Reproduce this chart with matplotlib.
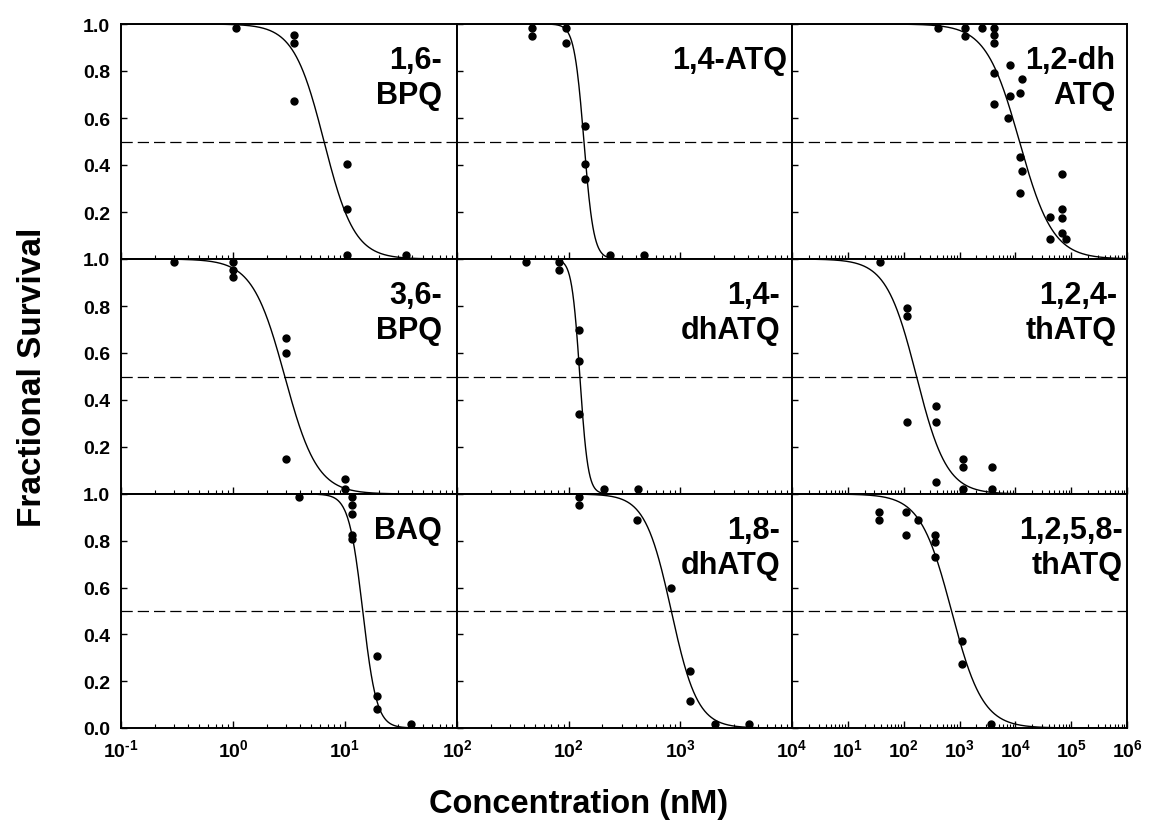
import numpy as np
import matplotlib
matplotlib.use("Agg")
import matplotlib.pyplot as plt
from matplotlib.ticker import LogLocator, NullFormatter, FixedLocator

plt.rcParams['font.family'] = ['Liberation Sans', 'DejaVu Sans']
plt.rcParams['font.weight'] = 'bold'
plt.rcParams['mathtext.fontset'] = 'custom'
plt.rcParams['mathtext.rm'] = 'Liberation Sans:bold'
plt.rcParams['mathtext.bf'] = 'Liberation Sans:bold'
plt.rcParams['mathtext.default'] = 'bf'

# ---------------- data ----------------
panel_names = ["1,6-\nBPQ", "1,4-ATQ", "1,2-dh\nATQ",
               "3,6-\nBPQ", "1,4-\ndhATQ", "1,2,4-\nthATQ",
               "BAQ", "1,8-\ndhATQ", "1,2,5,8-\nthATQ"]

conc_16BPQ = [1.06, 3.5, 3.5, 3.5, 10.5, 10.5, 10.5, 35]
surv_16BPQ = [0.983, 0.953, 0.92, 0.674, 0.405, 0.211, 0.017, 0.017]

conc_14ATQ = [47, 47, 95, 95, 141, 141, 141, 236, 472]
surv_14ATQ = [0.983, 0.95, 0.983, 0.92, 0.566, 0.405, 0.34, 0.017, 0.017]

conc_12dhATQ = [419, 1259, 1259, 2541, 4229, 4229, 4229, 4229, 4229, 8072, 8072,
                7328, 13060, 12190, 12190, 13060, 12190, 69020, 69020, 69020,
                69020, 41500, 41500, 80350]
surv_12dhATQ = [0.983, 0.983, 0.95, 0.983, 0.983, 0.953, 0.918, 0.79, 0.661, 0.824,
                0.695, 0.598, 0.766, 0.708, 0.435, 0.373, 0.281, 0.36, 0.211, 0.173,
                0.11, 0.179, 0.085, 0.085]

conc_36BPQ = [0.30, 1.0, 1.0, 1.0, 3.0, 3.0, 3.0, 10, 10]
surv_36BPQ = [0.986, 0.986, 0.955, 0.922, 0.665, 0.6, 0.149, 0.065, 0.021]

conc_14dhATQ = [41.5, 82, 82, 124, 124, 124, 207, 414]
surv_14dhATQ = [0.986, 0.986, 0.953, 0.697, 0.566, 0.342, 0.021, 0.021]

conc_124thATQ = [37.8, 115, 115, 115, 386, 386, 386, 1161, 1161, 1161, 3890, 3890]
surv_124thATQ = [0.986, 0.791, 0.759, 0.308, 0.373, 0.308, 0.051, 0.148, 0.115,
                 0.02, 0.115, 0.02]

conc_BAQ = [3.88, 11.6, 11.6, 11.6, 11.6, 11.6, 19.2, 19.2, 19.2, 38.8]
surv_BAQ = [0.986, 0.986, 0.952, 0.915, 0.826, 0.806, 0.306, 0.137, 0.08, 0.017]

conc_18dhATQ = [124, 124, 411, 818, 1219, 1219, 2042, 4111]
surv_18dhATQ = [0.986, 0.953, 0.889, 0.598, 0.242, 0.114, 0.017, 0.017]

conc_1258thATQ = [36, 36, 109, 109, 179, 366, 366, 366, 1099, 1099, 3683]
surv_1258thATQ = [0.922, 0.89, 0.922, 0.826, 0.89, 0.826, 0.793, 0.729, 0.373,
                  0.275, 0.017]

# fitted dose-response parameters (IC50 in nM, Hill slope)
ic50 = [6.5, 137, 11850, 2.9, 126, 170, 14.4, 830, 720]
hill = [3.2, 10, 1.45, 3.0, 12, 1.6, 7.0, 3.7, 1.55]

concs = [conc_16BPQ, conc_14ATQ, conc_12dhATQ, conc_36BPQ, conc_14dhATQ,
         conc_124thATQ, conc_BAQ, conc_18dhATQ, conc_1258thATQ]
survs = [surv_16BPQ, surv_14ATQ, surv_12dhATQ, surv_36BPQ, surv_14dhATQ,
         surv_124thATQ, surv_BAQ, surv_18dhATQ, surv_1258thATQ]

# x-axis ranges per column and tick labels
col_xlim = [(0.1, 100), (10, 1e4), (1, 1e6)]
col_xticks = [[0.1, 1, 10, 100],
              [10, 100, 1000, 1e4],
              [1, 10, 100, 1000, 1e4, 1e5, 1e6]]
col_xticklabels = [[r'$10^{\text{-}1}$', r'$10^{0}$', r'$10^{1}$', r'$10^{2}$'],
                   ['', r'$10^{2}$', r'$10^{3}$', r'$10^{4}$'],
                   ['', r'$10^{1}$', r'$10^{2}$', r'$10^{3}$', r'$10^{4}$',
                    r'$10^{5}$', r'$10^{6}$']]
yticks_top = [0.2, 0.4, 0.6, 0.8, 1.0]
yticks_bottom = [0.0, 0.2, 0.4, 0.6, 0.8, 1.0]
half_survival = 0.5

# ---------------- layout ----------------
W, H = 1157, 837
fig = plt.figure(figsize=(W / 100, H / 100), dpi=100)

col_left_px = [121, 457, 792]
col_width_px = [336, 335, 335]
row_top_px = [25, 260, 495]
row_height_px = [235, 235, 234]
label_inset_px = [15, 5, 12, 15, 12, 10, 15, 12, 4]

for i in range(9):
    r, c = divmod(i, 3)
    left = col_left_px[c] / W
    bottom = 1 - (row_top_px[r] + row_height_px[r]) / H
    ax = fig.add_axes([left, bottom, col_width_px[c] / W, row_height_px[r] / H])
    ax.set_xscale('log')
    ax.set_xlim(*col_xlim[c])
    ax.set_ylim(0, 1)

    xx = np.logspace(np.log10(col_xlim[c][0]), np.log10(col_xlim[c][1]), 600)
    yy = 1.0 / (1.0 + (xx / ic50[i]) ** hill[i])
    ax.plot(xx, yy, color='black', lw=1.0)
    ax.axhline(half_survival, color='black', lw=0.9, dashes=(9, 4))
    ax.plot(concs[i], survs[i], 'o', color='black', ms=5, mec='black',
            clip_on=False, zorder=5)

    ax.text(1 - label_inset_px[i] / col_width_px[c], 1 - 21 / row_height_px[r],
            panel_names[i], transform=ax.transAxes, ha='right', va='top',
            multialignment='right', fontsize=22, fontweight='bold',
            linespacing=1.22)

    for s in ax.spines.values():
        s.set_linewidth(1.4)

    ax.xaxis.set_major_locator(FixedLocator(col_xticks[c]))
    ax.xaxis.set_minor_locator(LogLocator(base=10, subs=np.arange(2, 10), numticks=100))
    ax.xaxis.set_minor_formatter(NullFormatter())
    ax.tick_params(axis='x', which='major', direction='in', length=5, width=1,
                   top=False, labelsize=14, pad=7)
    ax.tick_params(axis='x', which='minor', direction='in', length=3, width=0.8,
                   top=False)
    if r == 2:
        ax.set_xticklabels(col_xticklabels[c])
    else:
        ax.set_xticklabels([''] * len(col_xticks[c]))

    yt = yticks_bottom if r == 2 else yticks_top
    ax.set_yticks(yt)
    ax.tick_params(axis='y', direction='in', length=4, width=1, right=False,
                   labelsize=14, pad=8)
    if c == 0:
        ax.set_yticklabels([f'{v:.1f}' for v in yt], fontweight='bold')
    else:
        ax.set_yticklabels([''] * len(yt))
    for lab in ax.get_xticklabels() + ax.get_yticklabels():
        lab.set_fontweight('bold')

fig.text(0.028, 1 - 377 / H, 'Fractional Survival', rotation=90, ha='center',
         va='center', fontsize=24, fontweight='bold')
fig.text(0.5, 1 - 805 / H, 'Concentration (nM)', ha='center', va='center',
         fontsize=23.5, fontweight='bold')

fig.savefig('out.png', dpi=100)
